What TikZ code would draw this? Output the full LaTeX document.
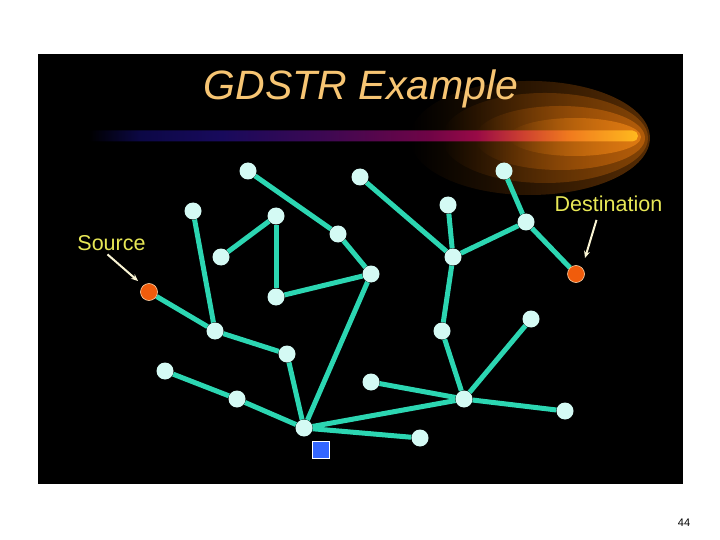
\documentclass[tikz,border=0pt]{standalone}
\usepackage{fontspec}
\setmainfont{Liberation Sans}
\usetikzlibrary{arrows.meta,positioning,fadings}
\definecolor{titleorange}{RGB}{247,197,115}
\definecolor{nodecyan}{RGB}{212,250,244}
\definecolor{linkgreen}{RGB}{44,214,178}
\definecolor{endorange}{RGB}{240,92,12}
\definecolor{endrim}{RGB}{255,214,170}
\definecolor{lblyellow}{RGB}{232,232,86}
\definecolor{ptrcream}{RGB}{250,245,212}
\definecolor{rootblue}{RGB}{52,102,255}
\definecolor{glowA}{RGB}{86,44,4}
\definecolor{glowB}{RGB}{128,66,6}
\definecolor{glowC}{RGB}{178,92,10}
\definecolor{glowD}{RGB}{222,122,18}
\definecolor{barA}{RGB}{12,8,70}
\definecolor{barB}{RGB}{24,10,92}
\definecolor{barC}{RGB}{62,8,82}
\definecolor{barD}{RGB}{112,4,70}
\definecolor{barE}{RGB}{152,10,70}
\definecolor{barF}{RGB}{205,64,48}
\definecolor{barG}{RGB}{240,122,30}
\definecolor{barH}{RGB}{255,186,30}
\pgfdeclarehorizontalshading{barshade}{100bp}{color(0bp)=(black); color(25bp)=(black);
  color(27.5bp)=(black); color(32bp)=(barA); color(39bp)=(barB); color(48bp)=(barC);
  color(57bp)=(barD); color(61bp)=(barE); color(65bp)=(barF); color(69bp)=(barG);
  color(75bp)=(barH); color(100bp)=(barH)}
\tikzfading[name=glowfade, left color=transparent!100, middle color=transparent!0, right color=transparent!0]
\pgfdeclarelayer{back}
\pgfdeclarelayer{links}
\pgfsetlayers{back,links,main}
\tikzset{
  sensor/.style={circle, fill=nodecyan, minimum size=17pt, inner sep=0pt},
  endpt/.style={circle, fill=endorange, draw=endrim, line width=0.6pt, minimum size=17pt, inner sep=0pt},
  rootbox/.style={rectangle, fill=rootblue, draw=white, line width=0.8pt, minimum size=17pt, inner sep=0pt},
  link/.style={linkgreen, line width=5pt},
  glow/.style={path fading=glowfade},
  lbl/.style={text=lblyellow, font=\fontsize{21.5}{22}\selectfont, inner sep=0pt, anchor=base},
  ptr/.style={-{Stealth[length=7pt,width=6pt]}, ptrcream, line width=2pt},
}

\begin{document}
\begin{tikzpicture}[x=1pt, y=-1pt]
  \useasboundingbox (0,0) rectangle (720,540);
  \begin{pgfonlayer}{back}
    \fill[white] (0,0) rectangle (720,540);
    \fill[black] (38,54) rectangle (683,484);
    \fill[glowA, glow] (530,138) ellipse [x radius=120, y radius=57];
    \fill[glowB, glow] (545,138) ellipse [x radius=103, y radius=45];
    \fill[glowC, glow] (560,138) ellipse [x radius=85, y radius=32];
    \fill[glowD, glow] (575,137) ellipse [x radius=66, y radius=19];
    \shade[shading=barshade, rounded corners=5.5pt] (60,130.5) rectangle (638,141.5);
  \end{pgfonlayer}

  \node[text=titleorange, font=\fontsize{41}{41}\selectfont\itshape, inner sep=0pt, anchor=base] (ttl) at (361,100) {GDSTR Example};

  \foreach \n/\x/\y in {p1/248/171, p2/360/177, p3/504/171, p4/193/211, p5/276/216,
      p6/448/205, p7/526/222, p8/338/234, p9/221/257, p10/453/257, p11/371/274,
      p12/276/297, p13/531/319, p14/215/331, p15/442/331, p16/287/354, p17/165/371,
      p18/371/382, p19/237/399, p20/464/399, p21/565/411, rt/304/428, p22/420/438}
    \node[sensor] (\n) at (\x,\y) {};
  \node[endpt] (src) at (149,292) {};
  \node[endpt] (dst) at (576,274) {};
  \node[rootbox] (sq) at (320.5,450) {};

  \begin{pgfonlayer}{links}
    \foreach \a/\b in {p1/p8, p8/p11, p11/p12, p12/p5, p5/p9, p4/p14, src/p14, p14/p16,
        p16/rt, p11/rt, p17/p19, p19/rt, rt/p20, rt/p22, p2/p10, p6/p10, p10/p7,
        p3/p7, p7/dst, p10/p15, p15/p20, p13/p20, p18/p20, p20/p21}
      \draw[link] (\a) -- (\b);
  \end{pgfonlayer}

  \node[lbl] (srclbl) at (111.5,250) {Source};
  \node[lbl] (dstlbl) at (608.5,211.5) {Destination};
  \coordinate (srctip) at ([shift={(-11,-11)}]src);
  \coordinate (dsttip) at ([shift={(9,-16)}]dst);
  \draw[ptr] ([shift={(-4,4)}]srclbl.south) -- (srctip);
  \draw[ptr] ([shift={(-12,8)}]dstlbl.south) -- (dsttip);

  \node[font=\fontsize{11}{11}\selectfont, inner sep=0pt, anchor=base] (pgno) at (684,526) {44};
\end{tikzpicture}
\end{document}
